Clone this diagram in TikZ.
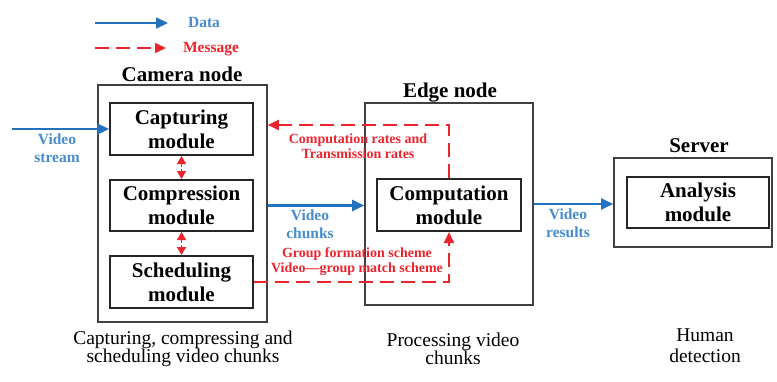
\documentclass[tikz,border=0pt]{standalone}
\usepackage{fontspec}
\setmainfont{Liberation Serif}
\usetikzlibrary{arrows.meta,positioning}
\definecolor{datablue}{RGB}{36,113,189}
\definecolor{datatext}{RGB}{72,140,208}
\definecolor{msgred}{RGB}{236,36,46}

\begin{document}
\begin{tikzpicture}[x=1pt,y=-1pt,
  outerbox/.style={draw=black!75,line width=1.6pt,inner sep=0pt},
  modbox/.style={draw=black!85,line width=2pt,inner sep=0pt,minimum width=143pt,minimum height=52pt,
    align=center,font=\bfseries\fontsize{21}{24}\selectfont},
  title/.style={font=\bfseries\fontsize{21}{24}\selectfont},
  datalbl/.style={text=datatext,align=center,font=\bfseries\fontsize{15.5}{18}\selectfont},
  msglbl/.style={text=msgred,align=center,font=\bfseries\fontsize{14}{15}\selectfont},
  caption/.style={align=center,font=\fontsize{19.5}{18}\selectfont},
  data/.style={-{Triangle[length=12pt,width=11pt]},draw=datablue,line width=2.2pt},
  msg/.style={-{Triangle[length=11pt,width=10pt]},draw=msgred,line width=2pt,dash pattern=on 14pt off 7pt},
  msgboth/.style={{Triangle[length=8pt,width=9pt]}-{Triangle[length=8pt,width=9pt]},draw=msgred,line width=1.6pt,dash pattern=on 3pt off 2pt}]
\useasboundingbox (0,0) rectangle (777,381);

\coordinate (ld1) at (95,23);
\coordinate (ld2) at (168,23);
\coordinate (lm1) at (95,48);
\coordinate (lm2) at (166,48);
\draw[data] (ld1) -- (ld2);
\draw[msg] (lm1) -- (lm2);
\node[datalbl] (ldata) at (204,22) {Data};
\node[msglbl,font=\bfseries\fontsize{15.5}{18}\selectfont] (lmsg) at (211,49) {Message};

\node[outerbox,minimum width=169pt,minimum height=237pt] (cam) at (182.5,203.5) {};
\node[outerbox,minimum width=168pt,minimum height=202pt] (edge) at (449,204) {};
\node[outerbox,minimum width=158pt,minimum height=89pt] (srv) at (693,202.5) {};
\node[title] (camt) at (182,74) {Camera node};
\node[title] (edget) at (450,93) {Edge node};
\node[title] (srvt) at (699,146) {Server};

\node[modbox] (cap) at (181.5,129) {Capturing\\module};
\node[modbox,minimum height=51pt] (comp) at (181.5,205.5) {Compression\\module};
\node[modbox] (sched) at (181.5,282) {Scheduling\\module};
\node[modbox,minimum width=144pt] (cmp) at (449,205) {Computation\\module};
\node[modbox,minimum width=142pt,minimum height=51pt] (ana) at (698,202.5) {Analysis\\module};

\coordinate (vin) at (12,129);
\draw[data] (vin) -- (cap.west);
\node[datalbl] (vinl) at (57,148) {Video\\stream};
\draw[data] (cam.east |- comp.east) -- (edge.west |- comp.east);
\node[datalbl] (vchl) at (310,224) {Video\\chunks};
\draw[data] (edge.east) -- (edge.east -| srv.west);
\node[datalbl] (vrsl) at (568,223) {Video\\results};

\draw[msgboth] (cap.south) -- (comp.north);
\draw[msgboth] (comp.south) -- (sched.north);

\coordinate (fb) at (449,125);
\draw[msg] (cmp.north) -- (fb) -- (fb -| cam.east);
\node[msglbl] (ratel) at (358,146) {Computation rates and\\Transmission rates};
\draw[msg] (sched.east) -| (cmp.south);
\node[msglbl] (grpl) at (357,262) {Group formation scheme\\Video---group match scheme};

\node[caption] (camc) at (183,349) {Capturing, compressing and\\scheduling video chunks};
\node[caption] (edgec) at (453,349) {Processing video\\chunks};
\node[caption,font=\fontsize{19.5}{21}\selectfont] (srvc) at (705,346) {Human\\detection};
\end{tikzpicture}
\end{document}
